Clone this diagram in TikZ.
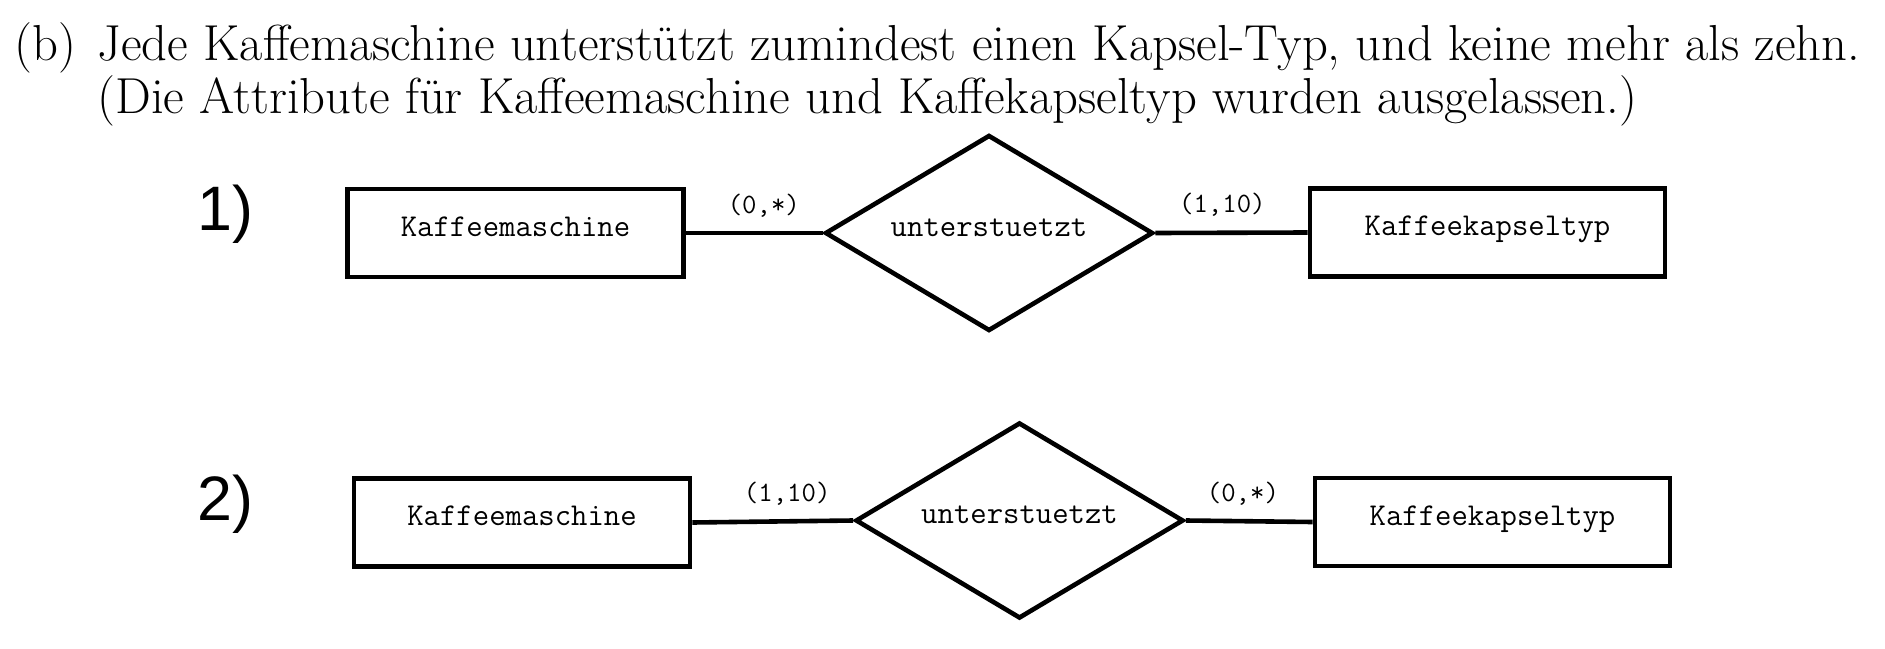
\documentclass[tikz,border=0pt]{standalone}
\usepackage{fontspec}
\newfontfamily\numfont{Liberation Sans}
\usetikzlibrary{shapes.geometric}
\tikzset{%
    entity/.style={draw, line width=2.3pt, minimum width=#1, minimum height=44pt,
        inner sep=0pt, text height=10pt, text depth=7pt, font=\fontsize{15.9}{18}\ttfamily},
    entity/.default=168pt,
    relation/.style={draw, diamond, aspect=1.7, line width=2.3pt, minimum width=164pt,
        minimum height=98pt, inner sep=0pt, text height=10pt, text depth=7pt,
        font=\fontsize{15.9}{18}\ttfamily},
    card/.style={font=\fontsize{14}{16}\ttfamily, inner sep=0pt, anchor=base, yshift=10pt},
    link/.style={line width=2.3pt},
    rownum/.style={font=\fontsize{31.4}{34}\numfont, inner sep=0pt, anchor=base west},
    task/.style={font=\fontsize{25.3}{29}\selectfont, inner sep=0pt, anchor=base west}
}

\begin{document}
\begin{tikzpicture}[x=0.5pt,y=-0.5pt]
\useasboundingbox (0,0) rectangle (1885,648);

\node[task] (tag) at (14,61) {(b)};
\node[task] (line1) at (97,61) {Jede Kaffemaschine unterstützt zumindest einen Kapsel-Typ, und keine mehr als zehn.};
\node[task] (line2) at (97,113) {(Die Attribute für Kaffeemaschine und Kaffekapseltyp wurden ausgelassen.)};

% variante 1
\node[rownum] (n1) at (197,230) {1)};
\node[entity] (km1) at (515.5,233) {Kaffeemaschine};
\node[relation] (rel1) at (989,233) {unterstuetzt};
\node[entity=177.5pt] (kt1) at (1487.5,232.5) {Kaffeekapseltyp};
\draw[link] (km1.east) -- (rel1.west) node[card,pos=0.57] {(0,*)};
\draw[link] (rel1.east) -- (kt1.west) node[card,pos=0.44] {(1,10)};

% variante 2
\node[rownum] (n2) at (197,520) {2)};
\node[entity] (km2) at (522,522.5) {Kaffeemaschine};
\node[relation] (rel2) at (1019.5,520.5) {unterstuetzt};
\node[entity=177.5pt] (kt2) at (1492.5,522) {Kaffeekapseltyp};
\draw[link] (km2.east) -- (rel2.west) node[card,pos=0.59] {(1,10)};
\draw[link] (rel2.east) -- (kt2.west) node[card,pos=0.45] {(0,*)};
\end{tikzpicture}
\end{document}
